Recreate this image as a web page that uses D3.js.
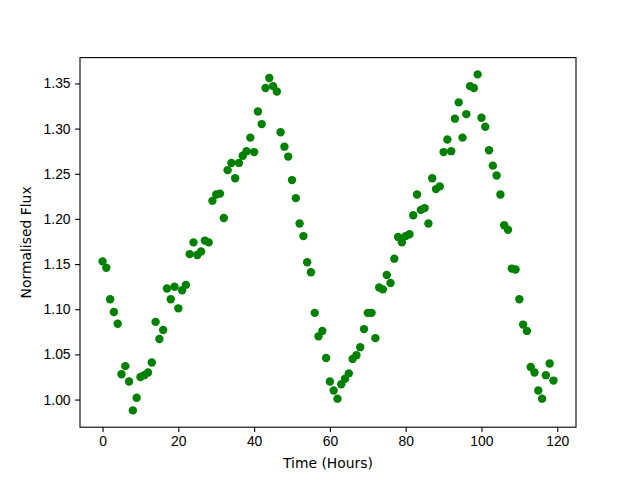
<!DOCTYPE html>
<html>
<head>
<meta charset="utf-8">
<script src="https://cdn.jsdelivr.net/npm/d3@7"></script>
<style>
  body { margin: 0; background: #fff; }
  svg { display: block; font-family: "DejaVu Sans", sans-serif; }
  .tick text { font-size: 13.9px; fill: #000; }
</style>
</head>
<body>
<svg id="chart" width="640" height="480"></svg>
<script>
// hours since start
const hours = d3.range(0, 120);

// normalised flux
const flux = [
  1.153, 1.146, 1.111, 1.097, 1.084, 1.028, 1.037, 1.020, 0.988, 1.002,
  1.025, 1.027, 1.030, 1.041, 1.086, 1.067, 1.077, 1.123, 1.111, 1.125,
  1.101, 1.121, 1.127, 1.161, 1.174, 1.160, 1.164, 1.176, 1.174, 1.220,
  1.227, 1.228, 1.201, 1.254, 1.262, 1.245, 1.262, 1.270, 1.275, 1.290,
  1.274, 1.319, 1.305, 1.345, 1.356, 1.347, 1.341, 1.296, 1.280, 1.269,
  1.243, 1.223, 1.195, 1.181, 1.152, 1.141, 1.096, 1.070, 1.076, 1.046,
  1.020, 1.010, 1.001, 1.017, 1.023, 1.029, 1.045, 1.049, 1.058, 1.078,
  1.096, 1.096, 1.068, 1.124, 1.122, 1.138, 1.129, 1.156, 1.180, 1.174,
  1.181, 1.183, 1.204, 1.227, 1.210, 1.212, 1.195, 1.245, 1.233, 1.236,
  1.274, 1.288, 1.275, 1.311, 1.329, 1.290, 1.316, 1.347, 1.345, 1.360,
  1.312, 1.302, 1.276, 1.259, 1.248, 1.227, 1.193, 1.188, 1.145, 1.144,
  1.111, 1.083, 1.076, 1.036, 1.030, 1.010, 1.001, 1.027, 1.040, 1.021
];

const xTicks = [0, 20, 40, 60, 80, 100, 120];
const yTicks = [1.00, 1.05, 1.10, 1.15, 1.20, 1.25, 1.30, 1.35];

const W = 640, H = 480;
const margin = { left: 80, right: 64, top: 57.6, bottom: 52.8 };
const svg = d3.select("#chart");

// matplotlib-style 5% padding around data
const pad = ([lo, hi]) => { const m = (hi - lo) * 0.05; return [lo - m, hi + m]; };

const x = d3.scaleLinear()
  .domain(pad(d3.extent(hours)))
  .range([margin.left, W - margin.right]);
const y = d3.scaleLinear()
  .domain(pad(d3.extent(flux)))
  .range([H - margin.bottom, margin.top]);

const pts = hours.map((h, i) => ({ h, f: flux[i] }));

svg.append("g")
  .selectAll("circle")
  .data(pts)
  .join("circle")
  .attr("cx", d => x(d.h))
  .attr("cy", d => y(d.f))
  .attr("r", 4.2)
  .attr("fill", "#008000");

// axes
const xAxis = svg.append("g")
  .attr("transform", `translate(0,${H - margin.bottom})`)
  .call(d3.axisBottom(x).tickValues(xTicks).tickSize(4.9).tickPadding(4.5).tickFormat(d3.format("d")));
const yAxis = svg.append("g")
  .attr("transform", `translate(${margin.left},0)`)
  .call(d3.axisLeft(y).tickValues(yTicks).tickSize(4.9).tickPadding(4.5).tickFormat(d3.format(".2f")));

[xAxis, yAxis].forEach(a => {
  a.select(".domain").remove();
  a.selectAll(".tick line").attr("stroke", "#000").attr("stroke-width", 1.1);
});

// frame
svg.append("rect")
  .attr("x", margin.left).attr("y", margin.top)
  .attr("width", W - margin.left - margin.right)
  .attr("height", H - margin.top - margin.bottom)
  .attr("fill", "none").attr("stroke", "#000").attr("stroke-width", 1.1);

svg.append("text")
  .attr("x", (margin.left + W - margin.right) / 2)
  .attr("y", 468)
  .attr("text-anchor", "middle")
  .style("font-size", "13.9px")
  .text("Time (Hours)");

svg.append("text")
  .attr("transform", `translate(31,${(margin.top + H - margin.bottom) / 2}) rotate(-90)`)
  .attr("text-anchor", "middle")
  .style("font-size", "13.9px")
  .text("Normalised Flux");
</script>
</body>
</html>
